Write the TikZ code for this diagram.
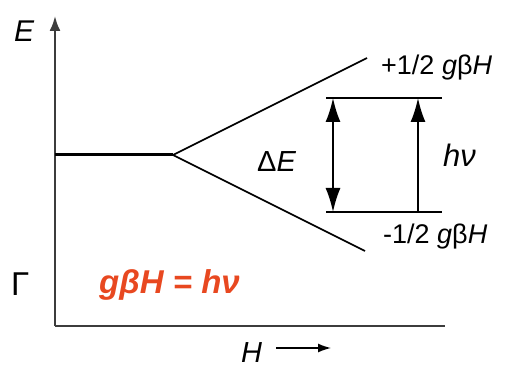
\documentclass[tikz,border=0pt]{standalone}
\usepackage{fontspec}
\setmainfont{Liberation Sans}
\usetikzlibrary{arrows.meta}
\definecolor{redtxt}{RGB}{232,72,32}
\definecolor{axisgray}{RGB}{60,60,60}
\tikzset{
  axisline/.style={draw=axisgray, line width=2.2pt},
  levelline/.style={draw=black, line width=1.6pt},
  lbl/.style={inner sep=0pt, font=\fontsize{27}{32}\selectfont},
  bigarrow/.style={-{Latex[length=24pt,width=15pt]}, line width=1.6pt},
}
\begin{document}
\begin{tikzpicture}[x=1pt,y=-1pt]
\useasboundingbox (0,0) rectangle (524,371);
% axes
\coordinate (O) at (55,326);
\coordinate (ytop) at (55,16);
\coordinate (xend) at (445,326);
\draw[axisline, -{Latex[length=15pt,width=11pt]}] (O) -- (ytop);
\draw[axisline] (O) -- (xend);
% levels
\coordinate (lstart) at (55,155);
\coordinate (split) at (173,155);
\coordinate (upend) at (367,58);
\coordinate (loend) at (365,251);
\draw[line width=3pt] (lstart) -- (split);
\draw[levelline] (split) -- (upend);
\draw[levelline] (split) -- (loend);
\coordinate (u1) at (326,98);
\coordinate (u2) at (442,98);
\coordinate (d1) at (326,212);
\coordinate (d2) at (442,212);
\draw[levelline] (u1) -- (u2);
\draw[levelline] (d1) -- (d2);
% arrows
\coordinate (dEtop) at (333,98);
\coordinate (dEbot) at (333,212);
\draw[bigarrow, {Latex[length=24pt,width=15pt]}-{Latex[length=24pt,width=15pt]}] (dEtop) -- (dEbot);
\coordinate (hvbot) at (418,212);
\coordinate (hvtop) at (418,98);
\draw[bigarrow] (hvbot) -- (hvtop);
% labels
\node[lbl, anchor=west] (E) at (14,31) {\fontsize{30}{34}\selectfont\textit{E}};
\node[lbl, anchor=west] (plus) at (381,68) {+1/2 \textit{g}β\textit{H}};
\node[lbl, anchor=west] (minus) at (383,237) {-1/2 \textit{g}β\textit{H}};
\node[lbl, anchor=west] (dE) at (257,162) {\fontsize{29}{32}\selectfont Δ\textit{E}};
\node[lbl, anchor=west] (hv) at (443,155) {\fontsize{31}{34}\selectfont\textit{hν}};
\node[lbl, anchor=west] (Gam) at (11,284) {\fontsize{33}{36}\selectfont Γ};
\node[lbl, anchor=west, text=redtxt] (res) at (99,285) {\fontsize{33}{36}\selectfont\bfseries\itshape gβH = hν};
\node[lbl, anchor=west] (Hx) at (241,353) {\fontsize{29}{32}\selectfont\textit{H}};
\coordinate (harr1) at (276,348);
\coordinate (harr2) at (331,348);
\draw[line width=1.4pt, -{Latex[length=13pt,width=9pt]}] (harr1) -- (harr2);
\end{tikzpicture}
\end{document}
